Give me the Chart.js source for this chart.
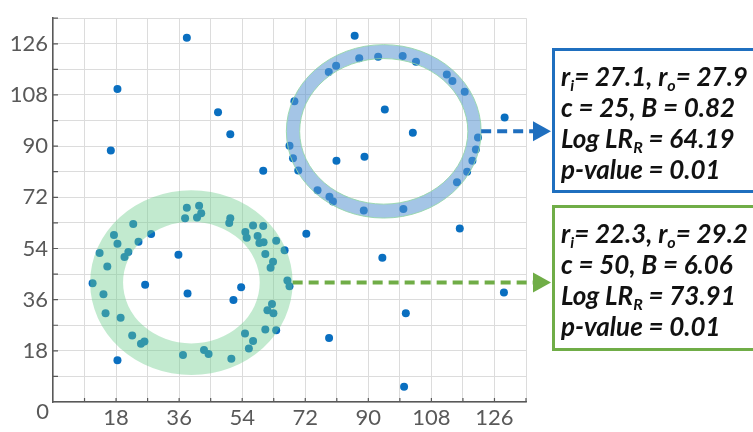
<!DOCTYPE html>
<html>
<head>
<meta charset="utf-8">
<script src="https://cdn.jsdelivr.net/npm/chart.js@4.4.1/dist/chart.umd.min.js"></script>
<style>
  body { margin: 0; background: #fff; }
  #wrap { position: relative; width: 753px; height: 432px; overflow: hidden; }
  .box {
    position: absolute;
    left: 552px;
    width: 230px;
    border: 3px solid;
    box-sizing: border-box;
    padding: 10px 0 0 6px;
    font-family: Lato, "Open Sans", sans-serif;
    font-weight: bold;
    font-style: italic;
    font-size: 26px;
    line-height: 31px;
    color: #111;
    white-space: nowrap;
  }
  .box sub { font-size: 16px; line-height: 0; vertical-align: -5px; }
  #box1 { top: 48px; height: 145px; border-color: #1f6fbf; }
  #box2 { top: 205px; height: 146px; border-color: #70ad47; }
</style>
</head>
<body>
<div id="wrap">
  <canvas id="c" width="753" height="432"></canvas>
  <div class="box" id="box1"></div>
  <div class="box" id="box2"></div>
</div>
<script>
// point cloud (x, y)
const xs = [
  38.2, 86.1, 18.4, 16.5, 47.1, 50.6, 60.0, 128.9, 116.1, 72.3, 94.0, 128.7, 100.7, 78.8, 100.2,
  87.4, 92.8, 99.8, 103.6, 80.8, 78.7, 112.4, 114.0, 117.5, 68.9, 94.7, 102.7, 121.3, 67.5,
  120.7, 68.5, 88.9, 80.9, 119.7, 70.0, 118.2, 115.3, 75.5, 78.9, 79.9, 88.7, 100.0,
  38.2, 37.7, 41.7, 42.3, 41.1, 22.9, 17.4, 28.0, 18.4, 24.4, 13.3, 21.5, 20.4, 35.8, 15.5,
  11.3, 26.3, 38.4, 14.4, 15.0, 19.3, 22.6, 25.1, 26.1, 18.4, 37.1,
  50.6, 50.3, 57.1, 60.0, 54.9, 55.3, 58.4, 58.9, 60.1, 63.7, 66.1, 60.6, 62.8, 62.1, 66.9,
  67.5, 53.7, 51.5, 62.5, 61.2, 62.9, 60.6, 63.7, 54.8, 57.1, 55.9, 43.1, 44.4, 50.9
];
const ys = [
  128.1, 128.8, 110.1, 88.5, 101.9, 94.2, 81.3, 100.1, 61.0, 59.2, 50.7, 38.5, 31.2, 22.5, 5.4,
  120.9, 121.4, 121.7, 119.7, 118.3, 116.1, 115.2, 112.9, 109.1, 105.8, 102.9, 94.7, 93.0, 90.1,
  88.8, 85.7, 86.3, 84.9, 84.9, 81.4, 81.0, 77.3, 74.5, 72.2, 70.5, 67.4, 67.9,
  68.3, 64.6, 69.0, 66.4, 64.9, 62.6, 58.7, 59.1, 55.7, 56.4, 52.4, 52.8, 51.0, 51.8, 47.7,
  41.8, 41.2, 38.2, 37.9, 31.2, 29.6, 23.4, 20.5, 21.3, 14.7, 16.5,
  64.6, 63.0, 62.1, 61.9, 59.8, 57.8, 58.4, 55.9, 56.2, 56.7, 53.4, 52.1, 49.3, 47.2, 42.7,
  40.7, 40.4, 35.9, 34.5, 32.3, 31.2, 25.5, 25.2, 24.1, 21.5, 18.8, 18.3, 16.9, 15.2
];

// rings: centre, outer radii, inner radii (data units)
const blueRing = [94.4, 95.2, 27.8, 30.5, 24.0, 25.6];
const greenRing = [39.5, 42.0, 28.9, 32.5, 19.5, 21.4];

const box1Lines = [
  'r<sub>i</sub>= 27.1, r<sub>o</sub>= 27.9',
  'c = 25, B = 0.82',
  'Log LR<sub>R</sub> = 64.19',
  'p-value = 0.01'
];
const box2Lines = [
  'r<sub>i</sub>= 22.3, r<sub>o</sub>= 29.2',
  'c = 50, B = 6.06',
  'Log LR<sub>R</sub> = 73.91',
  'p-value = 0.01'
];

document.getElementById('box1').innerHTML = box1Lines.join('<br>');
document.getElementById('box2').innerHTML = box2Lines.join('<br>');

const axisColor = '#595959';
const tickFont = { family: 'Lato', size: 22 };

const drawRing = (ctx, xS, yS, r, fill, stroke) => {
  const cx = xS.getPixelForValue(r[0]);
  const cy = yS.getPixelForValue(r[1]);
  const pxPerX = xS.getPixelForValue(1) - xS.getPixelForValue(0);
  const pxPerY = yS.getPixelForValue(0) - yS.getPixelForValue(1);
  ctx.save();
  ctx.beginPath();
  ctx.ellipse(cx, cy, r[2] * pxPerX, r[3] * pxPerY, 0, 0, Math.PI * 2);
  ctx.moveTo(cx + r[4] * pxPerX, cy);
  ctx.ellipse(cx, cy, r[4] * pxPerX, r[5] * pxPerY, 0, 0, Math.PI * 2, true);
  ctx.fillStyle = fill;
  ctx.fill('evenodd');
  if (stroke) {
    ctx.strokeStyle = stroke;
    ctx.lineWidth = 1;
    ctx.stroke();
  }
  ctx.restore();
  return { x: cx + r[2] * pxPerX, y: cy };
};

const drawArrow = (ctx, from, tipX, color) => {
  ctx.save();
  ctx.strokeStyle = color;
  ctx.fillStyle = color;
  ctx.lineWidth = 4;
  ctx.setLineDash([10, 6]);
  ctx.beginPath();
  ctx.moveTo(from.x, from.y);
  ctx.lineTo(tipX - 17, from.y);
  ctx.stroke();
  ctx.setLineDash([]);
  ctx.beginPath();
  ctx.moveTo(tipX, from.y);
  ctx.lineTo(tipX - 18, from.y - 10);
  ctx.lineTo(tipX - 18, from.y + 10);
  ctx.closePath();
  ctx.fill();
  ctx.restore();
};

const decor = {
  id: 'decor',
  afterDatasetsDraw(chart) {
    const { ctx, scales: { x, y } } = chart;
    const g = drawRing(ctx, x, y, greenRing, 'rgba(110,205,140,0.42)', null);
    const b = drawRing(ctx, x, y, blueRing, 'rgba(90,150,210,0.55)', 'rgba(150,215,170,0.9)');
    drawArrow(ctx, b, 551, '#1f6fbf');
    drawArrow(ctx, g, 551, '#70ad47');
  },
  afterDraw(chart) {
    const { ctx, chartArea: a, scales: { x, y } } = chart;
    ctx.save();
    ctx.strokeStyle = axisColor;
    ctx.lineWidth = 1.2;
    ctx.beginPath();
    for (let v = 9; v <= 135; v += 9) {
      const px = x.getPixelForValue(v);
      ctx.moveTo(px, a.bottom);
      ctx.lineTo(px, a.bottom - 4);
      const py = y.getPixelForValue(v);
      ctx.moveTo(a.left, py);
      ctx.lineTo(a.left + 5, py);
    }
    ctx.stroke();
    ctx.fillStyle = axisColor;
    ctx.font = '22px Lato';
    ctx.textAlign = 'right';
    ctx.textBaseline = 'middle';
    ctx.fillText('0', a.left - 4, a.bottom + 10);
    ctx.restore();
  }
};

const points = xs.map((v, i) => ({ x: v, y: ys[i] }));

new Chart(document.getElementById('c'), {
  type: 'scatter',
  data: {
    datasets: [{
      data: points,
      backgroundColor: '#0a6fc0',
      borderWidth: 0,
      pointRadius: 4
    }]
  },
  options: {
    responsive: false,
    animation: false,
    layout: { padding: { top: 3, right: 227, left: 0, bottom: 0 } },
    plugins: { legend: { display: false }, tooltip: { enabled: false } },
    scales: {
      x: {
        type: 'linear',
        min: 0,
        max: 135,
        afterFit(s) { s.height = 30; },
        ticks: {
          stepSize: 9,
          autoSkip: false,
          maxRotation: 0,
          padding: 3,
          color: axisColor,
          font: tickFont,
          callback: v => (v % 18 === 0 && v !== 0) ? v : ''
        },
        grid: { color: '#dcdcdc', drawTicks: false },
        border: { color: axisColor, width: 1.5 }
      },
      y: {
        type: 'linear',
        min: 0,
        max: 135,
        afterFit(s) { s.width = 53; },
        ticks: {
          stepSize: 9,
          autoSkip: false,
          padding: 5,
          color: axisColor,
          font: tickFont,
          callback: v => (v % 18 === 0 && v !== 0) ? v : ''
        },
        grid: { color: '#dcdcdc', drawTicks: false },
        border: { color: axisColor, width: 1.5 }
      }
    }
  },
  plugins: [decor]
});
</script>
</body>
</html>
